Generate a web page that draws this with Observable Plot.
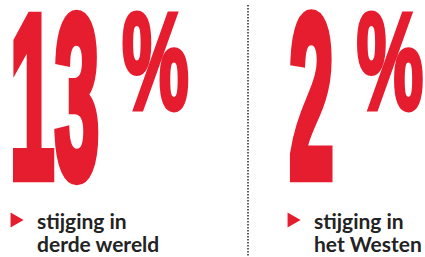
<!DOCTYPE html>
<html><head><meta charset="utf-8">
<script src="https://cdn.jsdelivr.net/npm/d3@7"></script>
<script src="https://cdn.jsdelivr.net/npm/@observablehq/plot@0.6"></script>
<style>html,body{margin:0;padding:0;background:#fff}</style>
</head><body><div id="chart"></div>
<script>
// ---- data ----
const regions = ["derde wereld", "het Westen"];
const values = [13, 2];
const unit = "%";
const line1 = ["stijging in", "stijging in"];
const line2 = ["derde wereld", "het Westen"];

const data = regions.map((r, i) => ({region: r, value: values[i], label: line1[i] + "\n" + line2[i]}));

// ---- style ----
const RED = "#e61d2f";
const INK = "#232323";
const BIG = "'Liberation Sans', Arial, sans-serif";
const FS = 100; // base font size for the display figures before squashing
// display-figure box: ink top/bottom, ink width of the first figure, stroke thickening
const FIG = {top: 10, bottom: 183, width: 90, stroke: 8};
const PCT = {height: 102, width: 68, gap: 21, stroke: 4};

// measure real glyph ink with canvas
const ctx = document.createElement("canvas").getContext("2d");
function ink(str) {
  ctx.font = `700 ${FS}px ${BIG}`;
  const m = ctx.measureText(str);
  return {l: -m.actualBoundingBoxLeft, r: m.actualBoundingBoxRight, t: -m.actualBoundingBoxAscent, b: m.actualBoundingBoxDescent};
}
const ref = ink(String(values[0]));
const nsy = (FIG.bottom - FIG.top - FIG.stroke) / (ref.b - ref.t);
const nsx = (FIG.width - FIG.stroke) / (ref.r - ref.l);
const pInk = ink(unit);
const psy = (PCT.height - PCT.stroke) / (pInk.b - pInk.t);
const psx = (PCT.width - PCT.stroke) / (pInk.r - pInk.l);

const plot = Plot.plot({
  width: 425, height: 257, margin: 0,
  x: {type: "point", domain: regions, range: [10, 287], padding: 0, axis: null},
  y: {axis: null},
  style: {background: "#fff", overflow: "visible"},
  marks: [
    Plot.ruleX([regions[1]], {x: d => d, dx: -39.5, insetTop: 5, stroke: "#2a2a2a", strokeWidth: 1.5, strokeDasharray: "1.5,1.5"}),
    Plot.text(data, {x: "region", text: d => String(d.value), frameAnchor: "top", textAnchor: "start",
      fontFamily: BIG, fontWeight: 700, fontSize: FS,
      fill: RED, stroke: RED, strokeWidth: FIG.stroke, strokeLinejoin: "miter"}),
    Plot.text(data, {x: "region", text: () => unit, frameAnchor: "top", textAnchor: "start",
      fontFamily: BIG, fontWeight: 700, fontSize: FS,
      fill: RED, stroke: RED, strokeWidth: PCT.stroke, strokeLinejoin: "miter"}),
    Plot.dot(data, {x: "region", frameAnchor: "top", dy: 219.5, dx: 4.4, symbol: "triangle", rotate: 90, r: 5.6, fill: RED, stroke: "none"}),
    Plot.text(data, {x: "region", text: "label", frameAnchor: "top", lineAnchor: "top", textAnchor: "start",
      dx: 26.5, dy: 212, fontSize: 21, lineHeight: 1.1, fontFamily: "Lato, sans-serif", fontWeight: 700, fill: INK})
  ]
});

document.getElementById("chart").appendChild(plot);
const svg = plot.tagName.toLowerCase() === "svg" ? plot : plot.querySelector("svg");

function place(el, ox, oy, sx, sy) {
  const s = d3.select(el);
  const t = s.attr("transform") || "";
  const x = +s.attr("x") || 0, y = +s.attr("y") || 0;
  s.attr("x", null).attr("y", null).attr("dy", null)
   .attr("transform", `${t} translate(${x + ox},${y + oy}) scale(${sx},${sy})`)
   .style("vector-effect", "non-scaling-stroke");
}

const texts = Array.from(svg.querySelectorAll("text"));
const nums = texts.filter(t => values.map(String).includes(t.textContent));
const pcts = texts.filter(t => t.textContent === unit);
nums.forEach((el, i) => {
  const k = ink(el.textContent);
  const h = FIG.stroke / 2;
  // ink left edge at the anchor, ink bottom at FIG.bottom
  place(el, h - k.l * nsx, FIG.bottom - h - ref.b * nsy, nsx, nsy);
  const numRight = (k.r - k.l) * nsx + FIG.stroke;
  const p = pcts[i];
  if (p) {
    const hp = PCT.stroke / 2;
    place(p, numRight + PCT.gap + hp - pInk.l * psx, FIG.top + hp - pInk.t * psy, psx, psy);
  }
});
</script>
</body></html>
